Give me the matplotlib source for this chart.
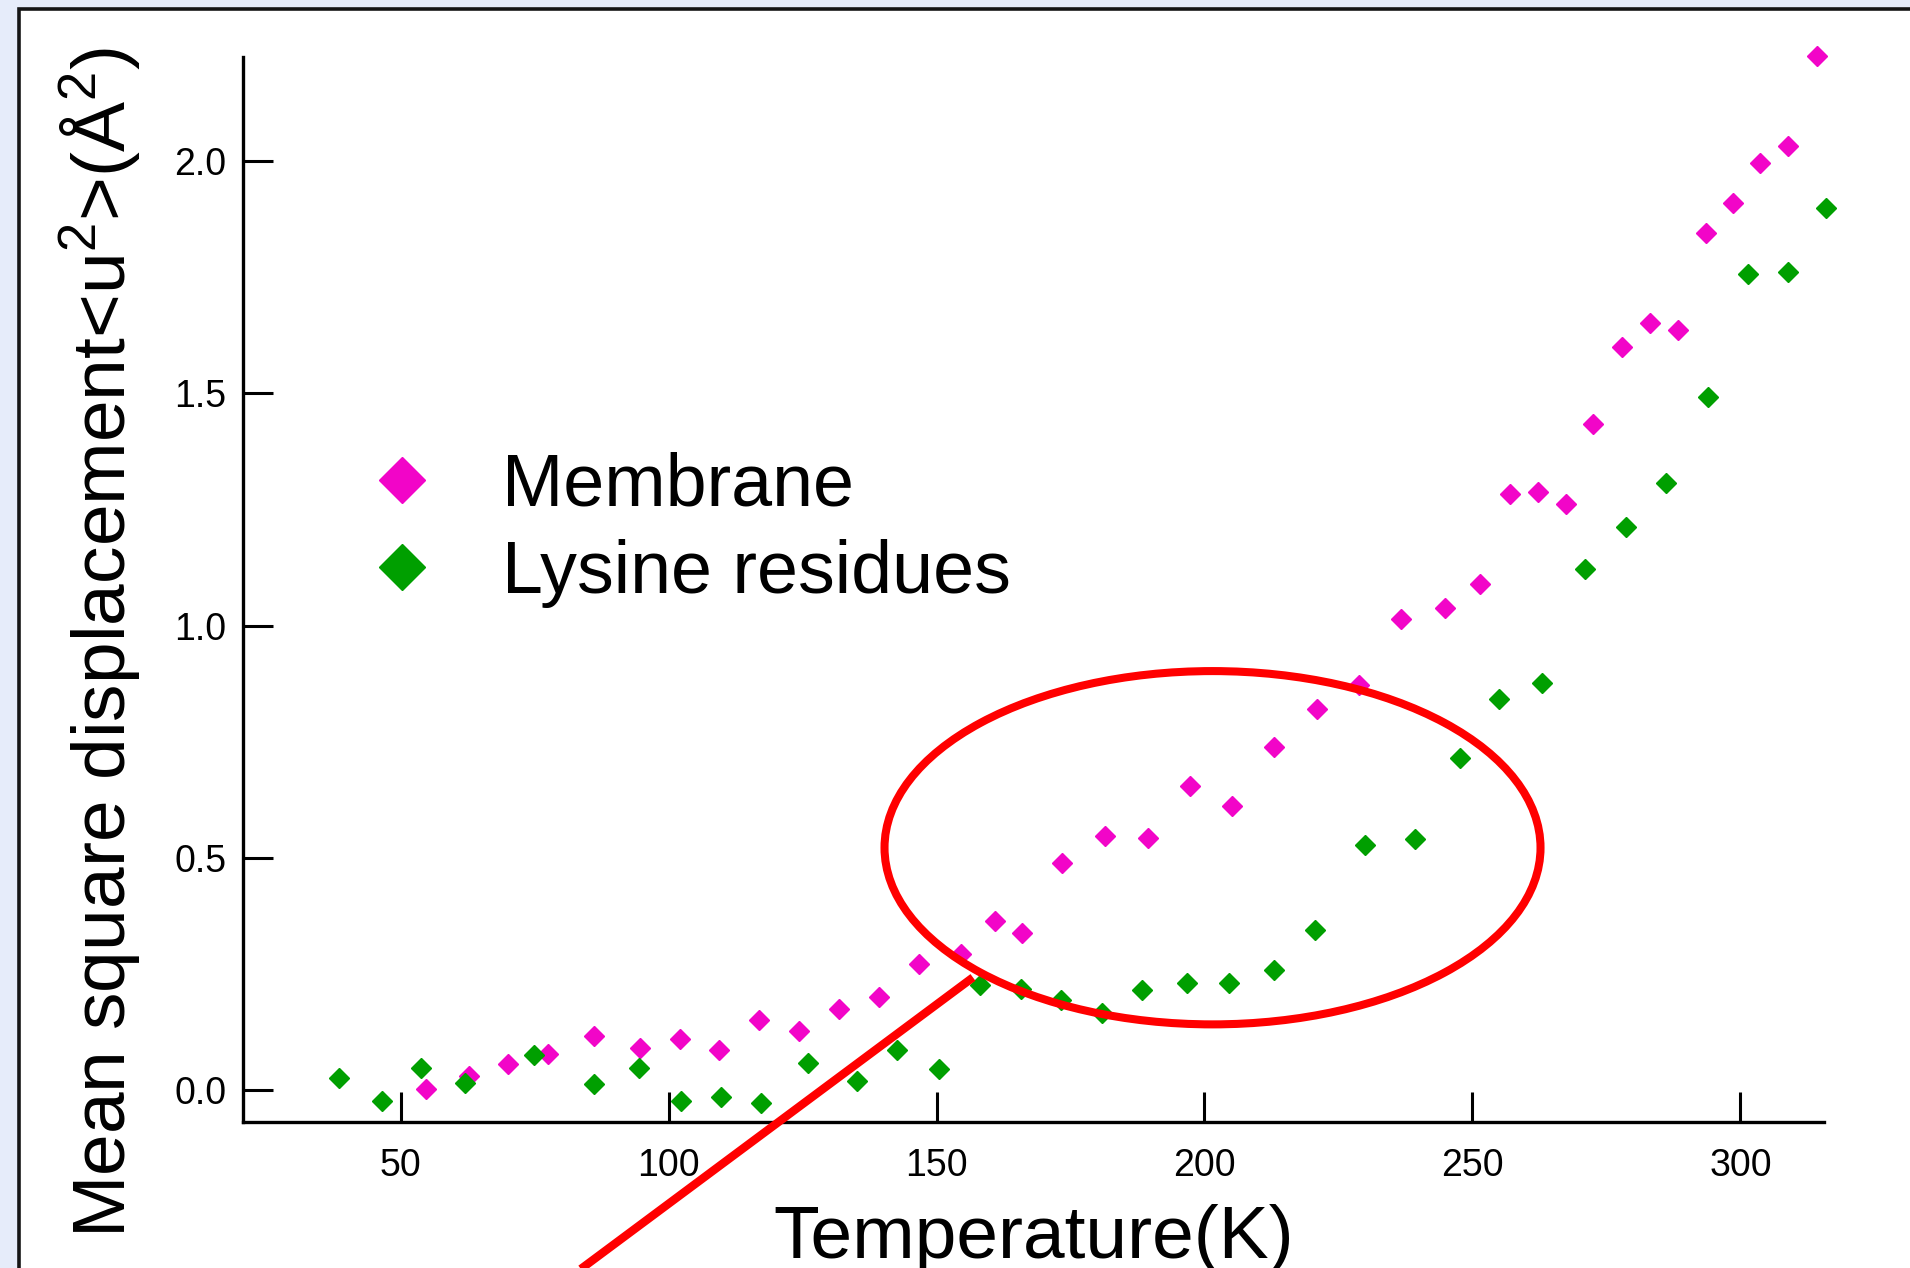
import numpy as np
import matplotlib
matplotlib.use("Agg")
import matplotlib.pyplot as plt
from matplotlib import font_manager
from matplotlib.patches import Ellipse, Rectangle

plt.rcParams['font.family'] = ['Liberation Sans', 'DejaVu Sans']
plt.rcParams['mathtext.fontset'] = 'custom'
plt.rcParams['mathtext.rm'] = 'Liberation Sans'

# temperature (K) and mean square displacement (A^2)
membrane_T = [54.7, 62.7, 70.1, 77.5, 86.1, 94.6, 102.1, 109.4, 116.9, 124.4,
              131.8, 139.3, 146.7, 154.6, 160.9, 166.0, 173.5, 181.4, 189.4, 197.3,
              205.1, 213.0, 221.0, 228.9, 236.6, 244.8, 251.5, 257.0, 262.2, 267.5,
              272.5, 277.9, 283.1, 288.3, 293.5, 298.6, 303.7, 308.9, 314.2]
membrane_msd = [0.003, 0.032, 0.057, 0.078, 0.116, 0.091, 0.110, 0.086, 0.152, 0.128,
                0.175, 0.200, 0.272, 0.294, 0.365, 0.339, 0.489, 0.548, 0.542, 0.655,
                0.612, 0.739, 0.820, 0.871, 1.013, 1.038, 1.089, 1.284, 1.288, 1.261,
                1.433, 1.599, 1.650, 1.636, 1.845, 1.909, 1.995, 2.032, 2.225]

lysine_T = [38.5, 46.6, 53.8, 62.0, 74.9, 86.1, 94.5, 102.4, 109.8, 117.2,
            126.0, 135.1, 142.6, 150.5, 158.1, 165.7, 173.2, 180.8, 188.4, 196.8,
            204.6, 213.0, 220.6, 230.0, 239.3, 247.6, 255.0, 263.0, 271.0, 278.6,
            286.2, 294.0, 301.4, 308.9, 315.9]
lysine_msd = [0.027, -0.022, 0.048, 0.015, 0.076, 0.013, 0.048, -0.022, -0.015, -0.028,
              0.058, 0.020, 0.086, 0.045, 0.226, 0.218, 0.194, 0.167, 0.216, 0.232,
              0.232, 0.259, 0.345, 0.528, 0.540, 0.714, 0.842, 0.877, 1.122, 1.211,
              1.307, 1.492, 1.756, 1.760, 1.899]

xticks = [50, 100, 150, 200, 250, 300]
yticks = [0.0, 0.5, 1.0, 1.5, 2.0]

# highlighted region and pointer line (data coords)
ell_center = (201.5, 0.522)
ell_w, ell_h = 122.4, 0.760
pointer_x = [156.8, 68.5]
pointer_y = [0.243, -0.514]

# tick labels in the reference use a narrow face
installed = {f.name for f in font_manager.fontManager.ttflist}
if 'Liberation Sans Narrow' in installed:
    tick_family, tick_size = 'Liberation Sans Narrow', 32
else:
    tick_family, tick_size = 'Liberation Sans', 27

fig = plt.figure(figsize=(19.1, 12.68), dpi=100)
fig.patch.set_facecolor('#E6ECFA')
panel = Rectangle((18.7 / 1910, -0.1), 1.2, 1.1 - 9 / 1268, transform=fig.transFigure,
                  facecolor='white', edgecolor='#151515', linewidth=2.6, zorder=0)
fig.add_artist(panel)

ax = fig.add_axes([243 / 1910, 1 - 1122 / 1268, 1580.5 / 1910, 1065 / 1268])
ax.set_facecolor('none')

ax.plot(membrane_T, membrane_msd, 'D', color='#F205C8', markersize=9.7,
        linestyle='none', label='Membrane', clip_on=False, zorder=3)
ax.plot(lysine_T, lysine_msd, 'D', color='#009F00', markersize=9.7,
        linestyle='none', label='Lysine residues', clip_on=False, zorder=3)

ax.add_patch(Ellipse(ell_center, ell_w, ell_h, fill=False, edgecolor='#FF0000',
                     linewidth=5.8, zorder=4, clip_on=False))
ax.plot(pointer_x, pointer_y, color='#FF0000', linewidth=6, zorder=4, clip_on=False,
        solid_capstyle='butt')

ax.set_xlim(20.6, 315.5)
ax.set_ylim(-0.068, 2.223)
ax.set_xticks(xticks)
ax.set_yticks(yticks)
ax.set_xticklabels([str(t) for t in xticks], family=tick_family, fontsize=tick_size)
ax.set_yticklabels(['%.1f' % t for t in yticks], family=tick_family, fontsize=tick_size)

for s in ['top', 'right']:
    ax.spines[s].set_visible(False)
for s in ['left', 'bottom']:
    ax.spines[s].set_linewidth(2.4)
ax.tick_params(direction='in', length=21.6, width=2.2)
ax.tick_params(axis='x', pad=19)
ax.tick_params(axis='y', pad=11.8)

ax.set_xlabel('Temperature(K)', fontsize=54)
ax.xaxis.label.set_va('baseline')
ax.xaxis.set_label_coords(0.5, -0.1277)

ax.set_ylabel(r'Mean square displacement<u$^{\mathregular{2}}$>(Å$^{\mathregular{2}}$)',
              fontsize=54)
ax.yaxis.label.set_va('baseline')
ax.yaxis.set_label_coords(-0.074, 0.45)

ax.legend(loc='upper left', bbox_to_anchor=(365 / 1910, 1 - 451.5 / 1268),
          bbox_transform=fig.transFigure, frameon=False, fontsize=53,
          markerscale=2.4, numpoints=1, handlelength=1.0, handletextpad=0.865,
          borderpad=0, borderaxespad=0, labelspacing=0.25)

fig.savefig('out.png', dpi=100, facecolor=fig.get_facecolor())
